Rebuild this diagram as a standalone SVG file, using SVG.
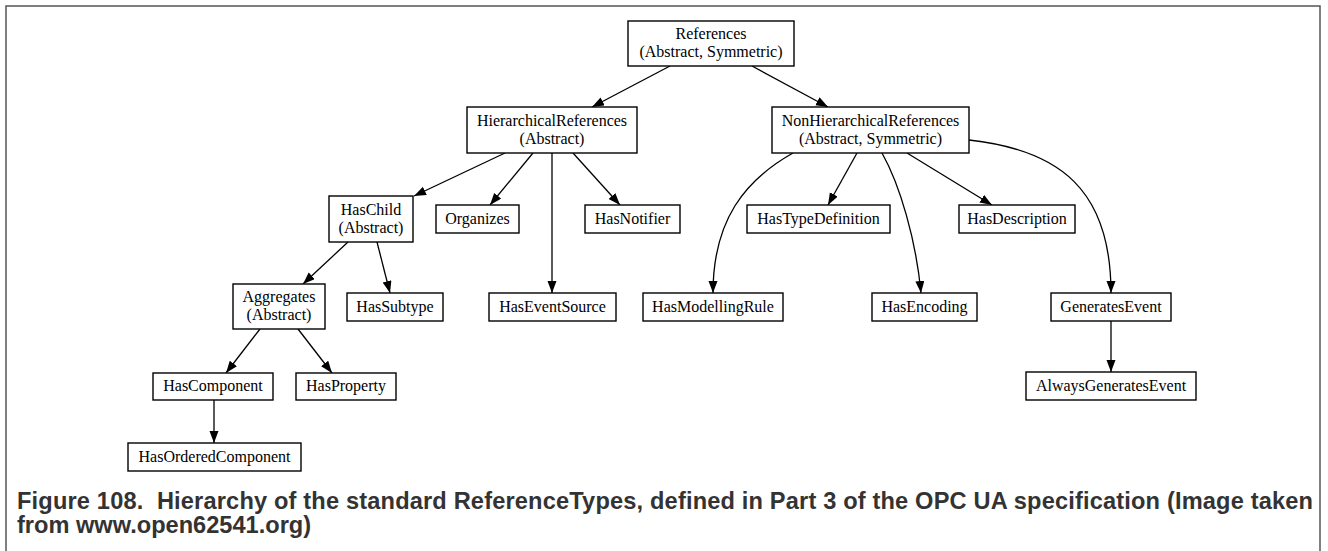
<svg xmlns="http://www.w3.org/2000/svg" width="1328" height="551" viewBox="0 0 1328 551">
<style>
.n rect{fill:#fff;stroke:#000;stroke-width:1.4}
.n text{font-family:"Liberation Serif","Times New Roman",serif;font-size:16px;fill:#000;text-anchor:middle}
.e path{fill:none;stroke:#000;stroke-width:1.3}
.cap{font-family:"Liberation Sans",Arial,sans-serif;font-weight:bold;font-size:23.6px;fill:#333}
</style>
<defs>
<marker id="ah" markerUnits="userSpaceOnUse" markerWidth="13" markerHeight="10" refX="12" refY="4.5" orient="auto">
<path d="M0,0 L12,4.5 L0,9 Z" fill="#000"/>
</marker>
</defs>
<rect width="1328" height="551" fill="#fff"/>
<rect x="6" y="6" width="1314" height="580" fill="none" stroke="#555" stroke-width="1.5"/>
<g class="e">
<path d="M670,66 L592,107" marker-end="url(#ah)"/>
<path d="M752,66 L828,107" marker-end="url(#ah)"/>
<path d="M505,153 L414,196" marker-end="url(#ah)"/>
<path d="M533,153 L490,205" marker-end="url(#ah)"/>
<path d="M552,153 L552,293" marker-end="url(#ah)"/>
<path d="M573,153 L620,205" marker-end="url(#ah)"/>
<path d="M793,153 C745,180 713,220 713,293" marker-end="url(#ah)"/>
<path d="M857,153 L828,205" marker-end="url(#ah)"/>
<path d="M882,153 C900,185 916,240 921,293" marker-end="url(#ah)"/>
<path d="M907,153 L992,205" marker-end="url(#ah)"/>
<path d="M969,140 C1060,150 1111,190 1111,293" marker-end="url(#ah)"/>
<path d="M348,242 L303,284" marker-end="url(#ah)"/>
<path d="M377,242 L390,293" marker-end="url(#ah)"/>
<path d="M260,329 L226,373" marker-end="url(#ah)"/>
<path d="M298,329 L332,373" marker-end="url(#ah)"/>
<path d="M214,400 L214,443" marker-end="url(#ah)"/>
<path d="M1111,321 L1111,372" marker-end="url(#ah)"/>
</g>
<g id="References" class="n"><rect x="628" y="21" width="166" height="45"/><text x="711" y="39">References</text><text x="711" y="57">(Abstract, Symmetric)</text></g>
<g id="HierarchicalReferences" class="n"><rect x="467" y="107" width="170" height="46"/><text x="552" y="126">HierarchicalReferences</text><text x="552" y="144">(Abstract)</text></g>
<g id="NonHierarchicalReferences" class="n"><rect x="772" y="107" width="197" height="46"/><text x="870.5" y="126">NonHierarchicalReferences</text><text x="870.5" y="144">(Abstract, Symmetric)</text></g>
<g id="HasChild" class="n"><rect x="329" y="196" width="84" height="46"/><text x="371" y="215">HasChild</text><text x="371" y="233">(Abstract)</text></g>
<g id="Organizes" class="n"><rect x="436" y="205" width="83" height="28"/><text x="477.5" y="224">Organizes</text></g>
<g id="HasNotifier" class="n"><rect x="585" y="205" width="95" height="28"/><text x="632.5" y="224">HasNotifier</text></g>
<g id="HasTypeDefinition" class="n"><rect x="747" y="205" width="143" height="28"/><text x="818.5" y="224">HasTypeDefinition</text></g>
<g id="HasDescription" class="n"><rect x="959" y="205" width="116" height="28"/><text x="1017" y="224">HasDescription</text></g>
<g id="Aggregates" class="n"><rect x="233" y="284" width="92" height="45"/><text x="279" y="302">Aggregates</text><text x="279" y="320">(Abstract)</text></g>
<g id="HasSubtype" class="n"><rect x="347" y="293" width="96" height="28"/><text x="395" y="312">HasSubtype</text></g>
<g id="HasEventSource" class="n"><rect x="489" y="293" width="127" height="28"/><text x="552.5" y="312">HasEventSource</text></g>
<g id="HasModellingRule" class="n"><rect x="643" y="293" width="140" height="28"/><text x="713" y="312">HasModellingRule</text></g>
<g id="HasEncoding" class="n"><rect x="872" y="293" width="105" height="28"/><text x="924.5" y="312">HasEncoding</text></g>
<g id="GeneratesEvent" class="n"><rect x="1051" y="293" width="120" height="28"/><text x="1111" y="312">GeneratesEvent</text></g>
<g id="HasComponent" class="n"><rect x="153" y="373" width="120" height="27"/><text x="213" y="391">HasComponent</text></g>
<g id="HasProperty" class="n"><rect x="296" y="373" width="100" height="27"/><text x="346" y="391">HasProperty</text></g>
<g id="AlwaysGeneratesEvent" class="n"><rect x="1026" y="372" width="170" height="28"/><text x="1111" y="391">AlwaysGeneratesEvent</text></g>
<g id="HasOrderedComponent" class="n"><rect x="128" y="443" width="173" height="28"/><text x="214.5" y="462">HasOrderedComponent</text></g>
<text class="cap" x="17" y="509" xml:space="preserve" textLength="1296" lengthAdjust="spacing">Figure 108.  Hierarchy of the standard ReferenceTypes, defined in Part 3 of the OPC UA specification (Image taken</text>
<text class="cap" x="17" y="533">from www.open62541.org)</text>
</svg>
